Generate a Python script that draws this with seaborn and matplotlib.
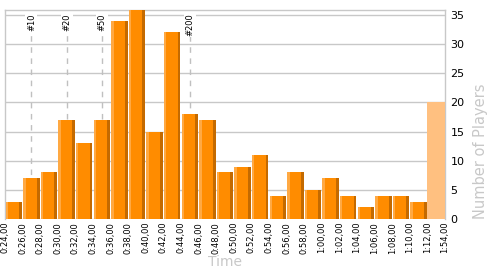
import numpy as np
import pandas as pd
import matplotlib
matplotlib.use("Agg")
import matplotlib.pyplot as plt
import seaborn as sns
from matplotlib.patches import Rectangle

# ---- data ----
edges = ["0:24,00", "0:26,00", "0:28,00", "0:30,00", "0:32,00", "0:34,00",
         "0:36,00", "0:38,00", "0:40,00", "0:42,00", "0:44,00", "0:46,00",
         "0:48,00", "0:50,00", "0:52,00", "0:54,00", "0:56,00", "0:58,00",
         "1:00,00", "1:02,00", "1:04,00", "1:06,00", "1:08,00", "1:10,00",
         "1:12,00", "1:54,00"]
counts = [3, 7, 8, 17, 13, 17, 34, 36, 15, 32, 18, 17, 8, 9, 11, 4, 8, 5,
          7, 4, 2, 4, 4, 3, 20]
kinds = ["normal"] * 24 + ["overflow"]
ranks = [10, 20, 50, 200]
rank_labels = ["#10", "#20", "#50", "#200"]
yticks = [0, 5, 10, 15, 20, 25, 30, 35]

bins = edges[:-1]
df = pd.DataFrame({"bin": bins, "count": counts, "kind": kinds})

sns.set_theme(style="white")
plt.rcParams["font.family"] = ["DejaVu Sans"]

fig = plt.figure(figsize=(5, 2.75), dpi=100)
ax = fig.add_axes([0.01, 0.2036, 0.88, 0.76])

grid_c = "#c8c8c8"
main_c = "#ff8c00"
light_c = "#ffa943"
dark_c = "#c46a00"
over_c = "#ffc080"

# dashed rank markers (behind bars)
cum = np.cumsum(counts)
for r, lab in zip(ranks, rank_labels):
    idx = int(np.searchsorted(cum, r, side="left"))
    ax.axvline(idx, color="#c0c0c0", lw=1, ls=(0, (4, 4)), zorder=1)
    ax.text(idx, 35.3, lab, rotation=90, ha="center", va="top", fontsize=6,
            color="black", zorder=2,
            bbox=dict(facecolor="white", edgecolor="none", pad=1))

normal = df[df["kind"] == "normal"]
over = df[df["kind"] == "overflow"]
sns.barplot(data=normal, x="bin", y="count", order=bins, color=main_c,
            saturation=1, width=0.94, ax=ax, zorder=3, edgecolor="none")
n_norm = len(ax.patches)
sns.barplot(data=over, x="bin", y="count", order=bins, color=over_c,
            saturation=1, width=1.0, ax=ax, zorder=3, edgecolor="none")

# 3D-ish shading on the normal bars
for p in list(ax.patches)[:n_norm]:
    x, w, h = p.get_x(), p.get_width(), p.get_height()
    if h <= 0 or np.isnan(h):
        continue
    ax.add_patch(Rectangle((x, 0), w * 0.15, h, facecolor=light_c,
                           edgecolor="none", zorder=4))
    ax.add_patch(Rectangle((x + w * 0.83, 0), w * 0.17, h, facecolor=dark_c,
                           edgecolor="none", zorder=4))

ax.set_xlim(-0.5, len(bins) - 0.5)
ax.set_ylim(0, 35.85)
ax.set_xticks(np.arange(len(edges)) - 0.5)
ax.set_xticklabels(edges, rotation=90, fontsize=6, color="black")
ax.set_yticks(yticks)
ax.set_yticklabels([str(v) for v in yticks], fontsize=8, color="black")
ax.yaxis.tick_right()
ax.yaxis.set_label_position("right")
ax.tick_params(axis="both", length=0)
ax.tick_params(axis="x", pad=2)
ax.tick_params(axis="y", pad=4)
ax.set_xlabel("Time", fontsize=10, color=grid_c, labelpad=1)
ax.set_ylabel("Number of Players", fontsize=10.5, color=grid_c, labelpad=6,
              loc="bottom")

ax.yaxis.grid(True, color=grid_c, lw=1)
ax.xaxis.grid(False)
ax.set_axisbelow(True)
for s in ["left", "top", "right"]:
    ax.spines[s].set_color(grid_c)
    ax.spines[s].set_linewidth(1)
ax.spines["bottom"].set_visible(False)

fig.savefig("out.png", dpi=100)
